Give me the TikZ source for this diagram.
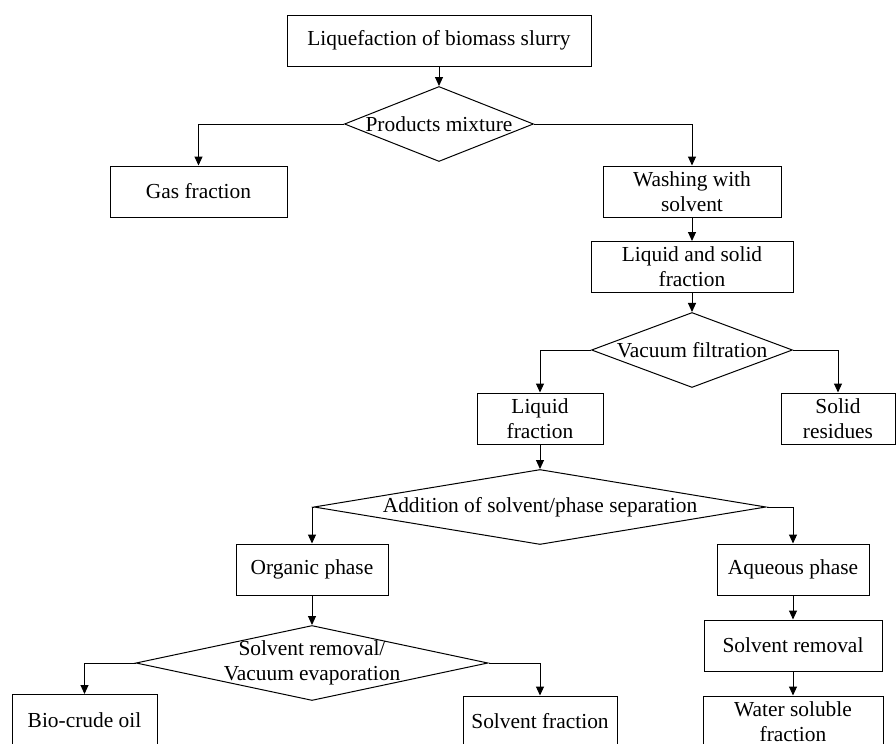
\documentclass[tikz,border=0pt]{standalone}
\usepackage{fontspec}
\setmainfont{Liberation Serif}
\usetikzlibrary{arrows.meta, shapes.geometric}

\begin{document}
\begin{tikzpicture}[
    x=0.5pt, y=-0.5pt,
    >={Triangle[length=4.5pt, width=4pt]},
    every node/.style={font=\fontsize{10.7}{12.5}\selectfont},
    procbox/.style={draw, line width=0.5pt, minimum width=#1, minimum height=25.5pt, inner sep=0pt, align=center},
    decision/.style={draw, diamond, line width=0.5pt, aspect=1, minimum width=#1, minimum height=37.5pt, inner sep=0pt},
    flow/.style={->, line width=0.5pt},
]
    \useasboundingbox (0,0) rectangle (896,744);
    \clip (0,0) rectangle (896,744);

    % Liquefaction and first split
    \node[procbox=152pt] (liq) at (439, 40.5) {Liquefaction of biomass slurry};
    \node[decision=94.5pt] (prod) at (439, 124) {\makebox[0pt]{Products mixture}};
    \node[procbox=88.5pt] (gas) at (198.5, 191.5) {Gas fraction};
    \node[procbox=89pt] (wash) at (692, 191.5) {Washing with\\solvent};
    \node[procbox=101pt] (lsf) at (692, 267) {Liquid and solid\\fraction};

    % Filtration
    \node[decision=100.5pt] (vac) at (692, 350) {\makebox[0pt]{Vacuum filtration}};
    \node[procbox=63pt] (liqfr) at (540, 418.5) {Liquid\\fraction};
    \node[procbox=57pt] (solid) at (838, 418.5) {Solid\\residues};

    % Phase separation
    \node[decision=226pt] (sep) at (540, 507) {\makebox[0pt]{Addition of solvent/phase separation}};
    \node[procbox=76pt] (org) at (312, 569.5) {Organic phase};
    \node[procbox=76pt] (aq) at (793, 569.5) {Aqueous phase};

    % Organic branch
    \node[decision=176pt] (evap) at (312, 663) {\makebox[0pt]{\begin{tabular}{@{}c@{}}Solvent removal/\\Vacuum evaporation\end{tabular}}};
    \node[procbox=72.5pt] (bio) at (84.5, 720) {Bio-crude oil};
    \node[procbox=77pt] (solfr) at (540, 721.5) {Solvent fraction};

    % Aqueous branch
    \node[procbox=89pt] (srem) at (793, 645.5) {Solvent removal};
    \node[procbox=90pt] (water) at (793, 721.5) {Water soluble\\fraction};

    % Connectors
    \draw[flow] (liq) -- (prod);
    \draw[flow] (prod.west) -| (gas.north);
    \draw[flow] (prod.east) -| (wash.north);
    \draw[flow] (wash) -- (lsf);
    \draw[flow] (lsf) -- (vac);
    \draw[flow] (vac.west) -| (liqfr.north);
    \draw[flow] (vac.east) -| (solid.north);
    \draw[flow] (liqfr) -- (sep);
    \draw[flow] (sep.west) -| (org.north);
    \draw[flow] (sep.east) -| (aq.north);
    \draw[flow] (org) -- (evap);
    \draw[flow] (evap.west) -| (bio.north);
    \draw[flow] (evap.east) -| (solfr.north);
    \draw[flow] (aq) -- (srem);
    \draw[flow] (srem) -- (water);

\end{tikzpicture}
\end{document}
